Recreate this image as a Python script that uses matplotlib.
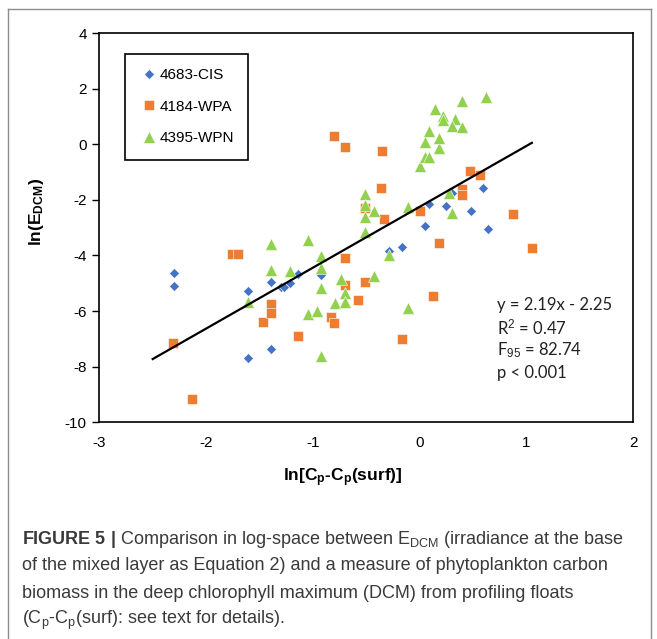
import matplotlib
matplotlib.use('Agg')
import matplotlib.pyplot as plt
from matplotlib.lines import Line2D
import numpy as np

# 4683-CIS (blue diamonds)
cis_x = [-2.30, -2.30, -1.61, -1.61, -1.39, -1.39, -1.39, -1.30, -1.27, -1.21,
         -1.14, -0.92, -0.29, -0.17, 0.05, 0.09, 0.25, 0.30, 0.48, 0.59, 0.64]
cis_y = [-4.62, -5.11, -5.27, -7.68, -4.97, -5.95, -7.36, -5.12, -5.12, -4.99,
         -4.67, -4.69, -3.84, -3.68, -2.94, -2.16, -2.22, -1.75, -2.41, -1.56, -3.05]

# 4184-WPA (orange squares)
wpa_x = [-2.31, -2.13, -1.76, -1.70, -1.47, -1.39, -1.39, -1.14, -0.83, -0.80,
         -0.80, -0.70, -0.70, -0.70, -0.58, -0.51, -0.51, -0.35, -0.36, -0.33,
         -0.17, 0.00, 0.12, 0.18, 0.40, 0.40, 0.47, 0.56, 0.87, 1.05]
wpa_y = [-7.15, -9.15, -3.94, -3.94, -6.40, -5.73, -6.08, -6.90, -6.20, -6.42,
         0.31, -0.10, -4.08, -5.05, -5.61, -4.94, -2.29, -0.23, -1.58, -2.68,
         -7.02, -2.40, -5.45, -3.54, -1.60, -1.82, -0.95, -1.11, -2.50, -3.74]

# 4395-WPN (green triangles)
wpn_x = [-1.61, -1.39, -1.39, -1.21, -1.05, -1.05, -0.96, -0.92, -0.92, -0.92,
         -0.92, -0.79, -0.74, -0.70, -0.70, -0.51, -0.51, -0.51, -0.51, -0.43,
         -0.43, -0.29, -0.11, -0.11, 0.00, 0.05, 0.09, 0.05, 0.18, 0.09,
         0.18, 0.14, 0.22, 0.22, 0.33, 0.30, 0.40, 0.40, 0.62, 0.27, 0.30]
wpn_y = [-5.69, -3.58, -4.52, -4.55, -3.44, -6.09, -5.99, -4.03, -4.45, -5.17,
         -7.62, -5.71, -4.86, -5.35, -5.69, -1.80, -2.20, -2.62, -3.14, -2.40,
         -4.74, -4.00, -2.26, -5.90, -0.78, -0.45, -0.45, 0.07, -0.15, 0.48,
         0.22, 1.27, 1.00, 0.88, 0.90, 0.67, 0.62, 1.54, 1.70, -1.77, -2.46]

FIT_SLOPE, FIT_ICPT = 2.19, -2.25
FIT_RANGE = [-2.5, 1.05]

SERIES = ['4683-CIS', '4184-WPA', '4395-WPN']
STATS_LINES = ['y = 2.19x - 2.25', r'R$^2$ = 0.47', r'F$_{95}$ = 82.74', 'p < 0.001']

CAPTION = [
    r'$\mathbf{FIGURE\ 5\ |}$ Comparison in log-space between E$_{\mathrm{DCM}}$ (irradiance at the base',
    'of the mixed layer as Equation 2) and a measure of phytoplankton carbon',
    'biomass in the deep chlorophyll maximum (DCM) from profiling floats',
    r'(C$_{\mathrm{p}}$-C$_{\mathrm{p}}$(surf): see text for details).',
]

BLUE = '#4472C4'
ORANGE = '#ED7D31'
GREEN = '#92D050'
CAP_COLOR = '#3a3a3a'

plt.rcParams.update({
    'font.family': ['Liberation Sans', 'DejaVu Sans'],
    'axes.unicode_minus': False,
    'mathtext.fontset': 'custom',
    'mathtext.rm': 'Liberation Sans',
    'mathtext.it': 'Liberation Sans:italic',
    'mathtext.bf': 'Liberation Sans:bold',
})

W, H = 657, 639
fig = plt.figure(figsize=(W / 100, H / 100), dpi=100)


def fx(px):
    return px / W


def fy(py):
    return 1 - py / H


ax = fig.add_axes([fx(99.3), fy(422.3), fx(633.3) - fx(99.3), fy(33) - fy(422.3)])

ax.plot(cis_x, cis_y, 'D', color=BLUE, ms=5.5, mec='white', mew=0.4, ls='none',
        label=SERIES[0], zorder=2)
ax.plot(wpa_x, wpa_y, 's', color=ORANGE, ms=6.5, mec='white', mew=0.4, ls='none',
        label=SERIES[1], zorder=2)
ax.plot(wpn_x, wpn_y, '^', color=GREEN, ms=8, mec='white', mew=0.4, ls='none',
        label=SERIES[2], zorder=2)

xf = np.array(FIT_RANGE)
ax.plot(xf, FIT_SLOPE * xf + FIT_ICPT, color='black', lw=1.6, zorder=3)

ax.set_xlim(-3, 2)
ax.set_ylim(-10, 4)
ax.set_xticks(np.arange(-3, 3, 1))
ax.set_yticks(np.arange(-10, 5, 2))
ax.tick_params(axis='y', direction='out', length=5, width=1, labelsize=11, pad=4)
ax.tick_params(axis='x', length=0, labelsize=11, pad=10)
for s in ax.spines.values():
    s.set_linewidth(1.2)
    s.set_color('black')

leg = ax.legend(loc='upper left', bbox_to_anchor=(0.048, 0.947), fontsize=11,
                frameon=True, fancybox=False, edgecolor='black', framealpha=1,
                borderpad=0.95, labelspacing=1.15, handletextpad=0.1,
                handlelength=1.2, borderaxespad=0)
leg.get_frame().set_linewidth(1.2)

fig.text(fx(36), fy(212), r'ln(E$_{\mathbf{DCM}}$)', rotation=90, ha='center',
         va='center', fontsize=12.5, fontweight='bold')
fig.text(fx(343), fy(478), r'ln[C$_{\mathbf{p}}$-C$_{\mathbf{p}}$(surf)]', ha='center',
         va='center', fontsize=12.5, fontweight='bold')

for i, line in enumerate(STATS_LINES):
    fig.text(fx(497), fy(305 + 22.7 * i), line, ha='left', va='center',
             fontsize=12, family=['Lato', 'DejaVu Sans'], color='#222222')

for i, line in enumerate(CAPTION):
    fig.text(fx(22), fy(539 + 27 * i), line, ha='left', va='center',
             fontsize=13.0, color=CAP_COLOR)

# outer frame around the figure panel
frame_kw = dict(color='#8c8c8c', lw=1, transform=fig.transFigure)
fig.add_artist(Line2D([fx(8), fx(8)], [fy(9), 0], **frame_kw))
fig.add_artist(Line2D([fx(8), fx(651)], [fy(9), fy(9)], **frame_kw))
fig.add_artist(Line2D([fx(651), fx(651)], [fy(9), 0], **frame_kw))

fig.savefig('out.png', dpi=100)
